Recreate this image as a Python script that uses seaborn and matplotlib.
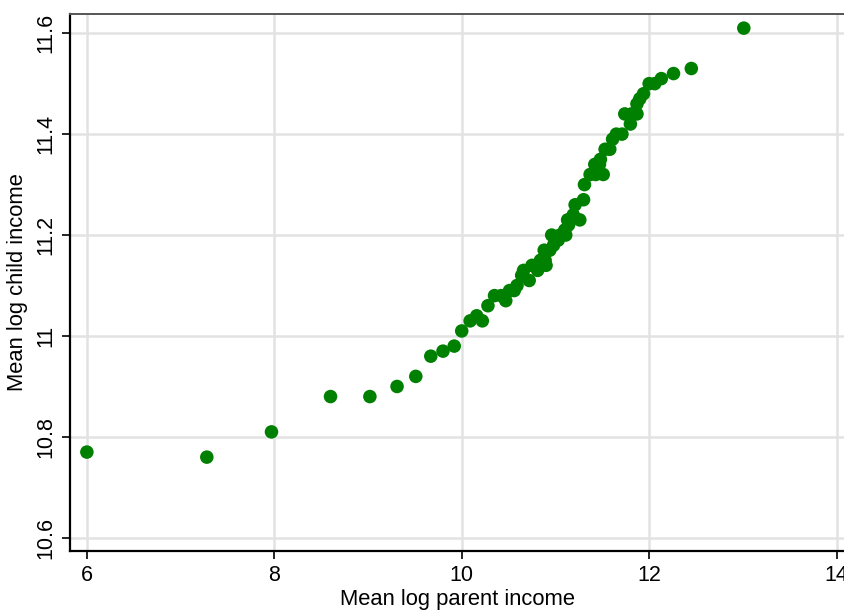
import matplotlib
matplotlib.use("Agg")
import matplotlib.pyplot as plt
import seaborn as sns
import pandas as pd

# Mean log parent income by bin
parent_income = [
    6.00, 7.28, 7.97, 8.60, 9.02, 9.31, 9.51, 9.67, 9.80, 9.92,
    10.00, 10.09, 10.16, 10.22, 10.28, 10.35, 10.42, 10.47, 10.51, 10.56,
    10.59, 10.64, 10.66, 10.72, 10.75, 10.81, 10.84, 10.89, 10.90, 10.88,
    10.94, 10.98, 10.96, 11.03, 11.05, 11.10, 11.14, 11.11, 11.13, 11.19,
    11.21, 11.26, 11.30, 11.31, 11.37, 11.43, 11.42, 11.47, 11.48, 11.53,
    11.51, 11.58, 11.61, 11.65, 11.71, 11.74, 11.80, 11.81, 11.87, 11.87,
    11.90, 11.94, 12.00, 12.06, 12.13, 12.26, 12.45, 13.01,
]
# Mean log child income by bin
child_income = [
    10.77, 10.76, 10.81, 10.88, 10.88, 10.90, 10.92, 10.96, 10.97, 10.98,
    11.01, 11.03, 11.04, 11.03, 11.06, 11.08, 11.08, 11.07, 11.09, 11.09,
    11.10, 11.12, 11.13, 11.11, 11.14, 11.13, 11.15, 11.15, 11.14, 11.17,
    11.17, 11.18, 11.20, 11.19, 11.20, 11.21, 11.22, 11.20, 11.23, 11.24,
    11.26, 11.23, 11.27, 11.30, 11.32, 11.32, 11.34, 11.34, 11.35, 11.37,
    11.32, 11.37, 11.39, 11.40, 11.40, 11.44, 11.42, 11.44, 11.44, 11.46,
    11.47, 11.48, 11.50, 11.50, 11.51, 11.52, 11.53, 11.61,
]
x_ticks = [6, 8, 10, 12, 14]
y_ticks = [10.6, 10.8, 11.0, 11.2, 11.4, 11.6]
y_tick_labels = ["10.6", "10.8", "11", "11.2", "11.4", "11.6"]

df = pd.DataFrame({"parent": parent_income, "child": child_income})

sns.set_style("white")
plt.rcParams["font.family"] = ["Liberation Sans", "DejaVu Sans"]
plt.rcParams["text.color"] = "black"
plt.rcParams["axes.labelcolor"] = "black"
plt.rcParams["xtick.color"] = "black"
plt.rcParams["ytick.color"] = "black"

fig = plt.figure(figsize=(8.45, 6.11), dpi=100)
ax = fig.add_axes([70 / 845, 1 - 551 / 611, 1 - 70 / 845, (551 - 14) / 611])

sns.scatterplot(data=df, x="parent", y="child", ax=ax, color="#008000",
                s=95, edgecolor="none", zorder=3)

ax.set_xlim(5.82, 14.09)
ax.set_ylim(10.574, 11.638)
ax.set_xticks(x_ticks)
ax.set_xticklabels([str(t) for t in x_ticks])
ax.set_yticks(y_ticks)
ax.set_yticklabels(y_tick_labels, rotation=90, va="center")

ax.grid(True, color="#e2e2e2", linewidth=1.8, zorder=0)
ax.set_axisbelow(True)

for side in ("left", "bottom"):
    ax.spines[side].set_color("black")
    ax.spines[side].set_linewidth(1.6)
ax.spines["top"].set_color("#555555")
ax.spines["top"].set_linewidth(1.4)
ax.spines["right"].set_visible(False)

ax.tick_params(axis="both", which="major", direction="out", length=6,
               width=1.2, color="black", labelcolor="black", labelsize=15.5,
               pad=4, bottom=True, left=True)

ax.set_xlabel("Mean log parent income", fontsize=15.8, labelpad=2)
ax.set_ylabel("Mean log child income", fontsize=15.8, labelpad=5)

fig.savefig("out.png", dpi=100)
